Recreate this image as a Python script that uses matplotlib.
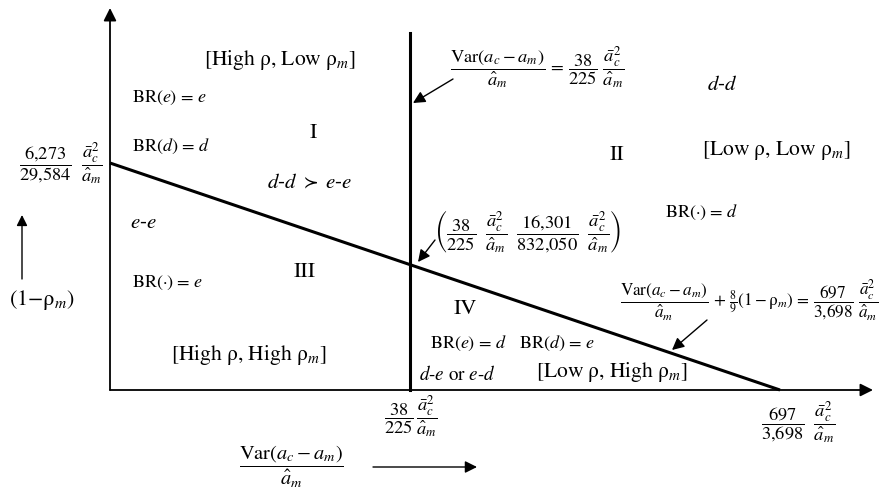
import matplotlib
matplotlib.use('Agg')
import matplotlib.pyplot as plt

plt.rcParams['font.family'] = 'STIXGeneral'
plt.rcParams['mathtext.fontset'] = 'stix'

# schematic coordinates of the diagram (not to scale, as in the original)
x_split = 300      # Var/a_m = 38/225 ...
x_end = 670        # x-intercept 697/3,698 ...
y_start = 227      # y-intercept 6,273/29,584 ...
x_axis_len = 763
y_axis_len = 382
split_top = 357

regions = ['I', 'II', 'III', 'IV']
region_xy = [(203, 257), (507, 235), (195, 118), (355, 81)]
rho_labels = [r'[High ρ, Low ρ$_m$]', r'[Low ρ, Low ρ$_m$]',
              r'[High ρ, High ρ$_m$]', r'[Low ρ, High ρ$_m$]']
rho_xy = [(170, 330), (666, 240), (139, 35), (502, 18)]

frac_a = r'\dfrac{\bar{a}_c^2}{\hat{a}_m}'
y_tick = r'$\dfrac{6{,}273}{29{,}584}\ \ ' + frac_a + '$'
x_ticks = [r'$\dfrac{38}{225}\,' + frac_a + '$',
           r'$\dfrac{697}{3{,}698}\ \ ' + frac_a + '$']

fig = plt.figure(figsize=(8.89, 4.95), dpi=100)
ax = fig.add_axes([0, 0, 1, 1])
ax.set_xlim(-110, 779)
ax.set_ylim(-105, 390)
ax.axis('off')

def arrow(p0, p1, lw=1.2, ms=14):
    ax.annotate('', xy=p1, xytext=p0,
                arrowprops=dict(arrowstyle='-|>', color='k', lw=lw,
                                mutation_scale=ms, shrinkA=0, shrinkB=0))

# axes
arrow((0, 0), (0, y_axis_len), lw=1.3, ms=19)
arrow((0, 0), (x_axis_len, 0), lw=1.3, ms=19)

# boundaries
ax.plot([x_split, x_split], [0, split_top], color='k', lw=2.2)
ax.plot([0, x_end], [y_start, 0], color='k', lw=2.2, solid_capstyle='butt')

# region labels
for r, (x, y) in zip(regions, region_xy):
    ax.text(x, y, r, fontsize=16, ha='center', va='center')
for r, (x, y) in zip(rho_labels, rho_xy):
    ax.text(x, y, r, fontsize=15.5, ha='center', va='center')

fs = 13
ax.text(22, 292, r'BR($e$) = $e$', fontsize=fs, va='center')
ax.text(22, 244, r'BR($d$) = $d$', fontsize=fs, va='center')
ax.text(200, 206, r'$d$-$d$ $\succ$ $e$-$e$', fontsize=15, ha='center', va='center')
ax.text(20, 167, r'$e$-$e$', fontsize=15, va='center')
ax.text(22, 107, r'BR(·) = $e$', fontsize=fs, va='center')
ax.text(612, 305, r'$d$-$d$', fontsize=15, ha='center', va='center')
ax.text(592, 178, r'BR(·) = $d$', fontsize=fs, ha='center', va='center')
ax.text(358, 47, r'BR($e$) = $d$', fontsize=fs, ha='center', va='center')
ax.text(447, 47, r'BR($d$) = $e$', fontsize=fs, ha='center', va='center')
ax.text(347, 15, r'$d$-$e$ or $e$-$d$', fontsize=13.7, ha='center', va='center')

# equations
eq_fs = 13.3
ax.text(427, 322, r'$\dfrac{\mathrm{Var}(a_c-a_m)}{\hat{a}_m}\,=\,\dfrac{38}{225}\ ' + frac_a + '$',
        fontsize=eq_fs, ha='center', va='center')
arrow((343, 311), (303, 287), lw=1.0, ms=18)

ax.text(418, 158, r'$\left(\dfrac{38}{225}\ \ ' + frac_a + r'\ \ \dfrac{16{,}301}{832{,}050}\ \ ' + frac_a + r'\right)$',
        fontsize=eq_fs, ha='center', va='center')
arrow((325, 150), (308, 128), lw=1.0, ms=18)

ax.text(510, 90, r'$\dfrac{\mathrm{Var}(a_c-a_m)}{\hat{a}_m}\,+\,\frac{8}{9}(1-\mathrm{\rho}_m)\,=\,\dfrac{697}{3{,}698}\ ' + frac_a + '$',
        fontsize=12.3, ha='left', va='center')
arrow((597, 70), (562, 40), lw=1.0, ms=18)

# tick labels
ax.text(-49, y_start, y_tick, fontsize=eq_fs, ha='center', va='center')
ax.text(x_split + 1, -27, x_ticks[0], fontsize=eq_fs, ha='center', va='center')
ax.text(688, -32, x_ticks[1], fontsize=eq_fs, ha='center', va='center')

# axis names
ax.text(-68, 90, r'(1$-$ρ$_m$)', fontsize=16, ha='center', va='center')
arrow((-88, 111), (-88, 175), lw=1.0, ms=16)
ax.text(181, -77, r'$\dfrac{\mathrm{Var}(a_c-a_m)}{\hat{a}_m}$', fontsize=14.7, ha='center', va='center')
arrow((263, -77), (367, -77), lw=1.0, ms=18)

fig.savefig('out.png', dpi=100)
